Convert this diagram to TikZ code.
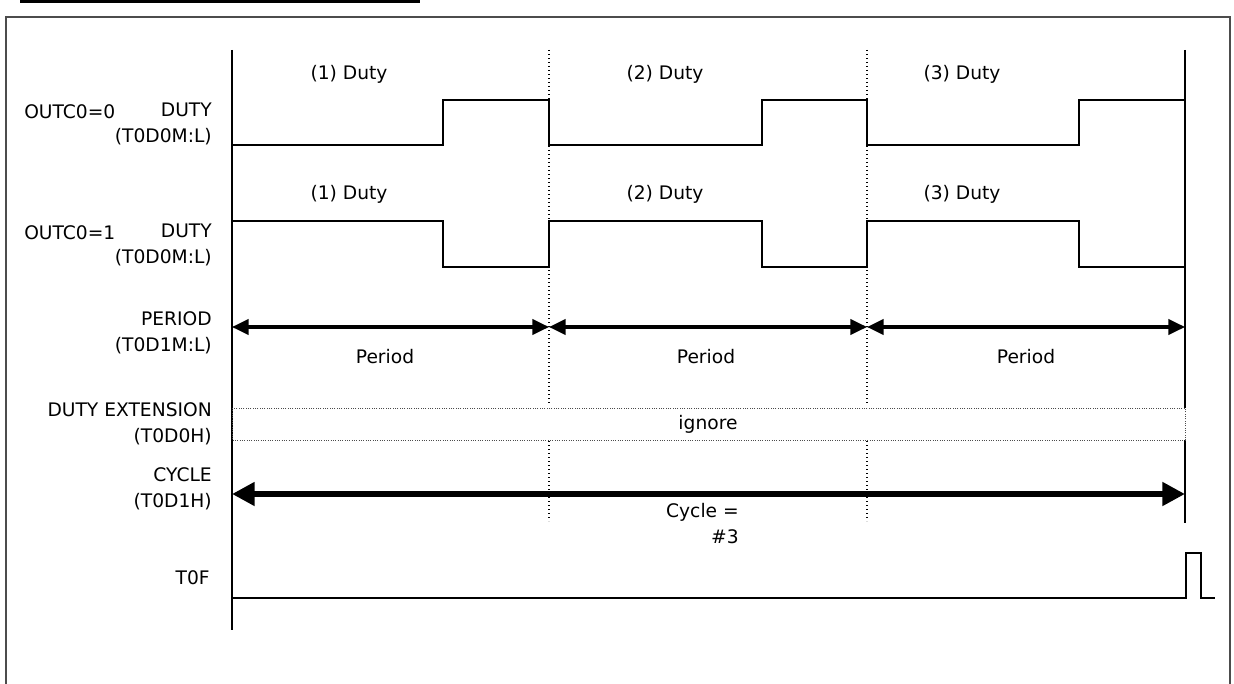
\documentclass[tikz,border=0pt]{standalone}
\usepackage{fontspec}
\setmainfont{DejaVu Sans}
\usetikzlibrary{arrows.meta}

\begin{document}
\begin{tikzpicture}[x=0.75pt, y=-0.75pt,
  lbl/.style={inner sep=0pt, font=\fontsize{14}{19.5}\selectfont},
  reg/.style={lbl, align=right, anchor=east},
  wave/.style={line width=1.5pt, line join=miter},
  axis/.style={line width=1.5pt},
  grid/.style={dotted, line width=1pt},
  band/.style={densely dotted, gray!60!black, line width=0.75pt},
  parr/.style={{Triangle[length=12.5pt,width=11.5pt]}-{Triangle[length=12.5pt,width=11.5pt]}, line width=2.4pt},
  carr/.style={{Triangle[length=17pt,width=17pt]}-{Triangle[length=17pt,width=17pt]}, line width=5pt}]
\useasboundingbox (0,0) rectangle (1234,684);
% frame and heading bar
\draw[line width=2.5pt] (20,1.5) -- (420,1.5);
\draw[gray!60!black, line width=1.2pt] (6,690) -- (6,17) -- (1230,17) -- (1230,690);

% time axes
\coordinate (a0) at (232,50);   \coordinate (a1) at (232,630);
\coordinate (m1) at (549,50);   \coordinate (n1) at (549,405);
\coordinate (m2) at (867,50);   \coordinate (n2) at (867,405);
\coordinate (k1) at (549,441);  \coordinate (l1) at (549,521);
\coordinate (k2) at (867,441);  \coordinate (l2) at (867,521);
\coordinate (e0) at (1185,50);  \coordinate (e1) at (1185,408);
\coordinate (e2) at (1185,440); \coordinate (e3) at (1185,523);
\draw[axis] (a0) -- (a1);
\draw[axis] (e0) -- (e1); \draw[axis] (e2) -- (e3);
\draw[grid] (m1) -- (n1); \draw[grid] (k1) -- (l1);
\draw[grid] (m2) -- (n2); \draw[grid] (k2) -- (l2);

% row labels
\node[lbl, anchor=west] (oc0) at (24,112) {OUTC0=0};
\node[reg] (duty0) at (212,123.5) {DUTY\\(T0D0M:L)};
\node[lbl, anchor=west] (oc1) at (24,233) {OUTC0=1};
\node[reg] (duty1) at (212,244.5) {DUTY\\(T0D0M:L)};
\node[reg] (per) at (212,333) {PERIOD\\(T0D1M:L)};
\node[reg] (ext) at (212,423.5) {DUTY EXTENSION\\(T0D0H)};
\node[reg] (cyc) at (212,489) {CYCLE\\(T0D1H)};
\node[reg] (tf) at (210,578) {T0F};

% duty labels
\node[lbl] (d01) at (349,74) {(1) Duty};
\node[lbl] (d02) at (665,74) {(2) Duty};
\node[lbl] (d03) at (962,74) {(3) Duty};
\node[lbl] (d11) at (349,194) {(1) Duty};
\node[lbl] (d12) at (665,194) {(2) Duty};
\node[lbl] (d13) at (962,194) {(3) Duty};

% OUTC0=0 waveform
\draw[wave] (232,145) -- (443,145) -- (443,100) -- (549,100) -- (549,145)
  -- (762,145) -- (762,100) -- (867,100) -- (867,145) -- (1079,145)
  -- (1079,100) -- (1185,100);
% OUTC0=1 waveform
\draw[wave] (232,221) -- (443,221) -- (443,267) -- (549,267) -- (549,221)
  -- (762,221) -- (762,267) -- (867,267) -- (867,221) -- (1079,221)
  -- (1079,267) -- (1185,267);

% period arrows
\coordinate (p0) at (232,327); \coordinate (p1) at (549,327);
\coordinate (p2) at (867,327); \coordinate (p3) at (1185,327);
\draw[parr] (p0) -- (p1);
\draw[parr] (p1) -- (p2);
\draw[parr] (p2) -- (p3);
\node[lbl] (pl1) at (385,357) {Period};
\node[lbl] (pl2) at (706,357) {Period};
\node[lbl] (pl3) at (1026,357) {Period};

% duty extension band
\draw[band] (232,408) rectangle (1185,440);
\node[lbl] (ign) at (708,424) {ignore};

% cycle arrow
\coordinate (c0) at (232,494); \coordinate (c1) at (1185,494);
\draw[carr] (c0) -- (c1);
\node[reg, anchor=north east] (cl) at (739,503) {Cycle =\\\#3};

% T0F flag
\draw[wave] (232,598) -- (1186,598) -- (1186,553) -- (1201,553)
  -- (1201,598) -- (1215,598);
\end{tikzpicture}
\end{document}
